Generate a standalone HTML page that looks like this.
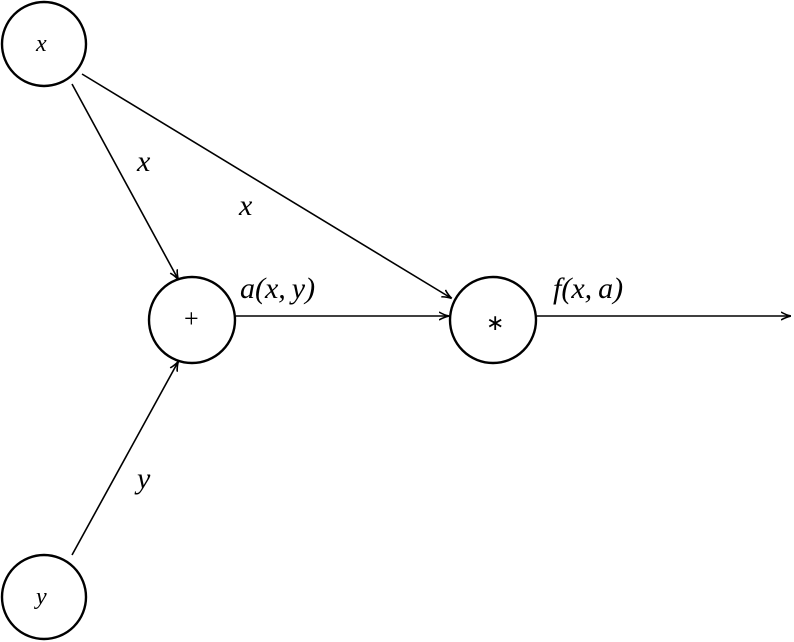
<!DOCTYPE html>
<html><head><style>
body{margin:0;background:#fff;width:794px;height:642px;position:relative;overflow:hidden}
svg{display:block;position:absolute;left:0;top:0}
.t{position:absolute;font-family:"Liberation Serif",serif;font-style:italic;font-size:30px;line-height:30px;white-space:nowrap;color:#000}
.n{position:absolute;font-family:"Liberation Serif",serif;font-size:26px;line-height:26px;color:#000}
</style></head>
<body>
<svg width="794" height="642" viewBox="0 0 794 642" xmlns="http://www.w3.org/2000/svg">
<defs>
<marker id="a" viewBox="0 0 10 10" refX="9" refY="5" markerWidth="10" markerHeight="10" markerUnits="userSpaceOnUse" orient="auto">
<path d="M0,1 Q5,4 10,5 Q5,6 0,9" fill="none" stroke="#000" stroke-width="1.6"/>
</marker>
</defs>
<g fill="none" stroke="#000" stroke-width="2.4">
<circle cx="44" cy="44" r="42"/>
<circle cx="192" cy="320" r="43"/>
<circle cx="493" cy="320" r="43"/>
<circle cx="44" cy="597" r="42"/>
</g>
<g stroke="#000" stroke-width="1.6" marker-end="url(#a)">
<line x1="72" y1="84" x2="178" y2="279"/>
<line x1="82" y1="74" x2="451" y2="298"/>
<line x1="236" y1="316" x2="448" y2="316"/>
<line x1="537" y1="316" x2="790" y2="316"/>
<line x1="72" y1="555" x2="178" y2="362"/>
</g>
</svg>
<div class="t" style="left:36px;top:29px;font-size:24px">x</div>
<div class="t" style="left:36px;top:582px;font-size:24px">y</div>
<div class="t" style="left:137px;top:147px">x</div>
<div class="t" style="left:239px;top:191px">x</div>
<div class="t" style="left:137px;top:464px">y</div>
<div class="t" style="left:240px;top:274px">a(x,&#8201;y)</div>
<div class="t" style="left:553px;top:274px">f(x,&#8201;a)</div>
<div class="n" style="left:184px;top:306px">+</div>
<div class="n" style="left:486px;top:310px;font-size:22px">∗</div>
</body></html>
